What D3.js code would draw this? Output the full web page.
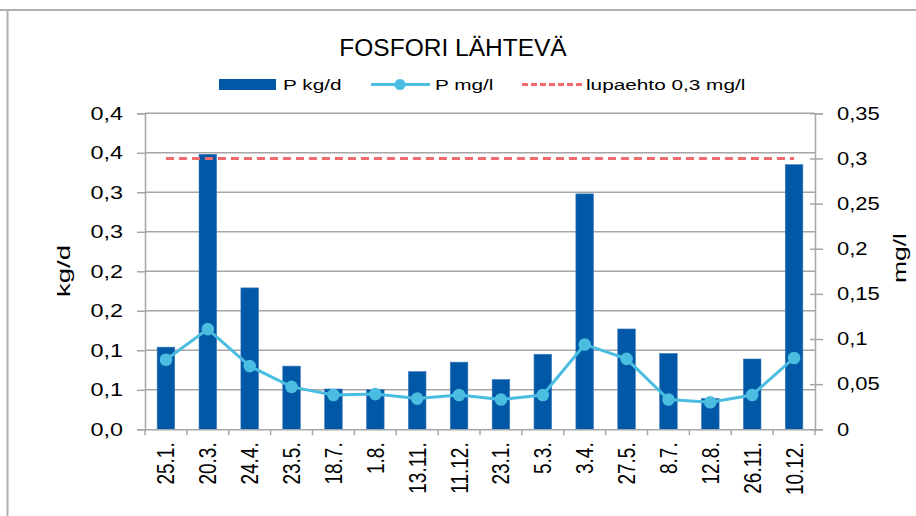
<!DOCTYPE html>
<html><head><meta charset="utf-8">
<script src="https://cdn.jsdelivr.net/npm/d3@7"></script>
<style>
html,body{margin:0;padding:0;background:#fff;}
svg{display:block;font-family:"Liberation Sans",Arial,sans-serif;}
</style></head>
<body><svg id="c" width="916" height="516"></svg>
<script>
const categories = ["25.1.","20.3.","24.4.","23.5.","18.7.","1.8.","13.11.","11.12.","23.1.","5.3.","3.4.","27.5.","8.7.","12.8.","26.11.","10.12."];
const kgPerDay = [0.104,0.348,0.179,0.080,0.051,0.050,0.073,0.085,0.063,0.095,0.298,0.127,0.096,0.039,0.089,0.335];
const mgPerL = [0.077,0.111,0.070,0.047,0.038,0.039,0.034,0.038,0.033,0.038,0.094,0.078,0.033,0.030,0.038,0.079];
const limitMgL = 0.3;
const leftTicks = [0,0.05,0.1,0.15,0.2,0.25,0.3,0.35,0.4];
const leftTickLabels = ["0,0","0,1","0,1","0,2","0,2","0,3","0,3","0,4","0,4"];
const rightTicks = [0,0.05,0.1,0.15,0.2,0.25,0.3,0.35];
const rightTickLabels = ["0","0,05","0,1","0,15","0,2","0,25","0,3","0,35"];
const title = "FOSFORI LÄHTEVÄ";
const seriesNames = ["P kg/d","P mg/l","lupaehto 0,3 mg/l"];

const svg = d3.select("#c");
const L = 145, R = 815, T = 113.3, B = 429.3;
const barColor = "#0058a6", lineColor = "#4bbde0", redColor = "#ef6b6e", gridColor = "#a6a6a6";
const SX = 1.3; // horizontal stretch of text in the reference

function stretch(sel, f){
  sel.each(function(){
    const w = this.getComputedTextLength();
    d3.select(this).attr("textLength", w*f).attr("lengthAdjust","spacingAndGlyphs");
  });
}

// outer frame lines
svg.append("line").attr("x1",0).attr("x2",916).attr("y1",10).attr("y2",10).attr("stroke","#b0b0b0").attr("stroke-width",2);
svg.append("line").attr("x1",7.5).attr("x2",7.5).attr("y1",9).attr("y2",516).attr("stroke","#b0b0b0").attr("stroke-width",2);

const x = d3.scaleBand().domain(categories).range([L,R]).paddingInner(0.58).paddingOuter(0.29);
const xc = d => x(d) + x.bandwidth()/2;
const yL = d3.scaleLinear().domain([0,0.4]).range([B,T]);
const yR = d3.scaleLinear().domain([0,0.35]).range([B,T]);

// gridlines
svg.append("g").selectAll("line").data(leftTicks.slice(1)).join("line")
  .attr("x1",L).attr("x2",R).attr("y1",d=>yL(d)).attr("y2",d=>yL(d))
  .attr("stroke",gridColor).attr("stroke-width",1.5);

// bars
svg.append("g").selectAll("rect").data(kgPerDay).join("rect")
  .attr("x",(d,i)=>x(categories[i])).attr("width",x.bandwidth())
  .attr("y",d=>yL(d)).attr("height",d=>B-yL(d))
  .attr("fill",barColor).attr("stroke","#3d7bbd").attr("stroke-width",0.6);

// limit line
svg.append("line").attr("x1",xc(categories[0])).attr("x2",xc(categories[categories.length-1]))
  .attr("y1",yR(limitMgL)).attr("y2",yR(limitMgL))
  .attr("stroke",redColor).attr("stroke-width",3).attr("stroke-dasharray","8,5");

// line series
svg.append("path").datum(mgPerL)
  .attr("d",d3.line().x((d,i)=>xc(categories[i])).y(d=>yR(d)))
  .attr("fill","none").attr("stroke",lineColor).attr("stroke-width",3);
svg.append("g").selectAll("circle").data(mgPerL).join("circle")
  .attr("cx",(d,i)=>xc(categories[i])).attr("cy",d=>yR(d)).attr("r",6.3).attr("fill",lineColor);

// axes
const axisColor = "#a6a6a6";
const gL = svg.append("g").attr("transform",`translate(${L},0)`)
  .call(d3.axisLeft(yL).tickValues(leftTicks).tickFormat((d,i)=>leftTickLabels[i]).tickSize(8).tickPadding(14));
const gR = svg.append("g").attr("transform",`translate(${R},0)`)
  .call(d3.axisRight(yR).tickValues(rightTicks).tickFormat((d,i)=>rightTickLabels[i]).tickSize(8).tickPadding(14));
gR.selectAll(".tick line").attr("x1",-5);
const gX = svg.append("g").attr("transform",`translate(0,${B})`)
  .call(d3.axisBottom(x).tickSize(0).tickPadding(0));
// category boundary ticks
svg.append("g").selectAll("line").data(d3.range(categories.length+1)).join("line")
  .attr("x1",i=>L+(R-L)*i/categories.length).attr("x2",i=>L+(R-L)*i/categories.length)
  .attr("y1",B).attr("y2",B+6).attr("stroke",axisColor).attr("stroke-width",1.5);

[gL,gR,gX].forEach(g=>{
  g.select(".domain").attr("stroke",axisColor).attr("stroke-width",1.5);
  g.selectAll(".tick line").attr("stroke",axisColor).attr("stroke-width",1.5);
  g.selectAll("text").attr("fill","#000").attr("font-size",18).attr("font-family","Liberation Sans, Arial, sans-serif");
});
stretch(gL.selectAll("text"), 1.3);
stretch(gR.selectAll("text"), 1.22);
gX.selectAll("text").attr("font-size",19).attr("transform","rotate(-90) scale(1,1.28)").attr("text-anchor","end")
  .attr("x",-13).attr("y",0).attr("dy","0.35em");

// axis titles
svg.append("text").attr("transform","translate(70,271) rotate(-90)").attr("text-anchor","middle")
  .attr("font-size",18).text("kg/d").call(s=>s.attr("textLength",52).attr("lengthAdjust","spacingAndGlyphs"));
svg.append("text").attr("transform","translate(906,258) rotate(-90)").attr("text-anchor","middle")
  .attr("font-size",18).text("mg/l").call(s=>s.attr("textLength",50).attr("lengthAdjust","spacingAndGlyphs"));

// title
svg.append("text").attr("x",453).attr("y",56).attr("text-anchor","middle")
  .attr("font-size",24.5).attr("fill","#000").text(title);

// legend
const lg = svg.append("g").attr("font-size",15.5);
lg.append("rect").attr("x",219).attr("y",79).attr("width",57).attr("height",11).attr("fill",barColor);
lg.append("text").attr("x",283).attr("y",90).text(seriesNames[0]);
lg.append("line").attr("x1",371).attr("x2",430).attr("y1",84.5).attr("y2",84.5).attr("stroke",lineColor).attr("stroke-width",3);
lg.append("circle").attr("cx",400).attr("cy",84.5).attr("r",5.5).attr("fill",lineColor);
lg.append("text").attr("x",435).attr("y",90).text(seriesNames[1]);
lg.append("line").attr("x1",522).attr("x2",583).attr("y1",84.5).attr("y2",84.5).attr("stroke",redColor).attr("stroke-width",3).attr("stroke-dasharray","6,3");
lg.append("text").attr("x",586).attr("y",90).text(seriesNames[2]);
stretch(lg.selectAll("text"), 1.34);
</script></body></html>
